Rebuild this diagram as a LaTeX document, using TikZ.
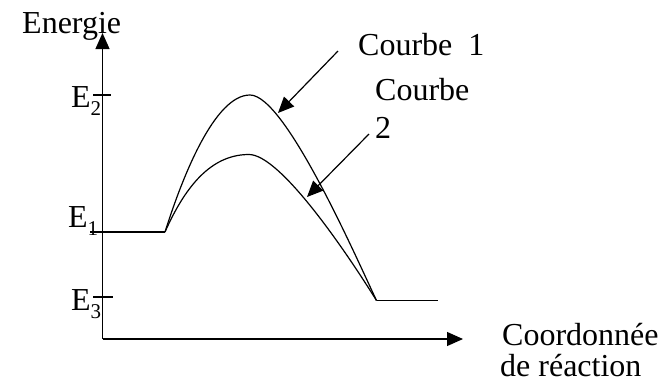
\documentclass[tikz,border=0pt]{standalone}
\usepackage{fontspec}
\setmainfont{Liberation Serif}
\usetikzlibrary{arrows.meta}
\newcommand{\lbl}{\fontsize{32}{32}\selectfont}
\newcommand{\sub}[1]{\raisebox{-8pt}{\fontsize{21}{21}\selectfont #1}}
\begin{document}
\begin{tikzpicture}[x=1pt,y=-1pt,
  line/.style={line width=1.2pt,line join=miter},
  arr/.style={line width=1.2pt,-{Triangle[length=16pt,width=14pt]}},
  txt/.style={anchor=base west,inner sep=0pt,font=\lbl}]
\useasboundingbox (0,0) rectangle (672,384);
% axes
\coordinate (O) at (102.5,339);
\coordinate (Ytip) at (102.5,33);
\coordinate (Xtip) at (463,339);
\draw[arr] (O) -- (Ytip);
\draw[arr] (O) -- (Xtip);
% ticks
\coordinate (t2a) at (93,95);  \coordinate (t2b) at (111,95);
\coordinate (t3a) at (93,297); \coordinate (t3b) at (113,297);
\draw[line] (t2a) -- (t2b);
\draw[line] (t3a) -- (t3b);
% energy profile
\coordinate (L) at (90,232);
\coordinate (A) at (165,232);
\coordinate (P1) at (250,95);
\coordinate (P2) at (249,154.5);
\coordinate (B) at (376.5,300.5);
\coordinate (R) at (438,300.5);
\draw[line] (L) -- (A);
\draw[line] (B) -- (R);
\draw[line] (A) .. controls (183,175) and (215,95) .. (P1)
                .. controls (285,95) and (355,255) .. (B);
\draw[line] (A) .. controls (188,180) and (215,154.5) .. (P2)
                .. controls (280,154.5) and (345,250) .. (B);
% labels
\node[txt] (energie) at (22,33) {Energie};
\node[txt] (e2) at (71,107) {E\sub{2}};
\node[txt] (e1) at (68,227) {E\sub{1}};
\node[txt] (e3) at (71,310) {E\sub{3}};
\node[txt] (c1) at (358,55) {Courbe\ \ 1};
\node[txt] (c2a) at (375,100) {Courbe};
\node[txt] (c2b) at (375,138) {2};
\node[txt] (coord) at (502,345) {Coordonnée};
\node[txt] (react) at (500,376.5) {de réaction};
% pointers
\coordinate (a1s) at (338,51);
\coordinate (a1e) at (278,113);
\coordinate (a2s) at (369,134);
\coordinate (a2e) at (307,197);
\draw[arr] (a1s) -- (a1e);
\draw[arr] (a2s) -- (a2e);
\end{tikzpicture}
\end{document}
